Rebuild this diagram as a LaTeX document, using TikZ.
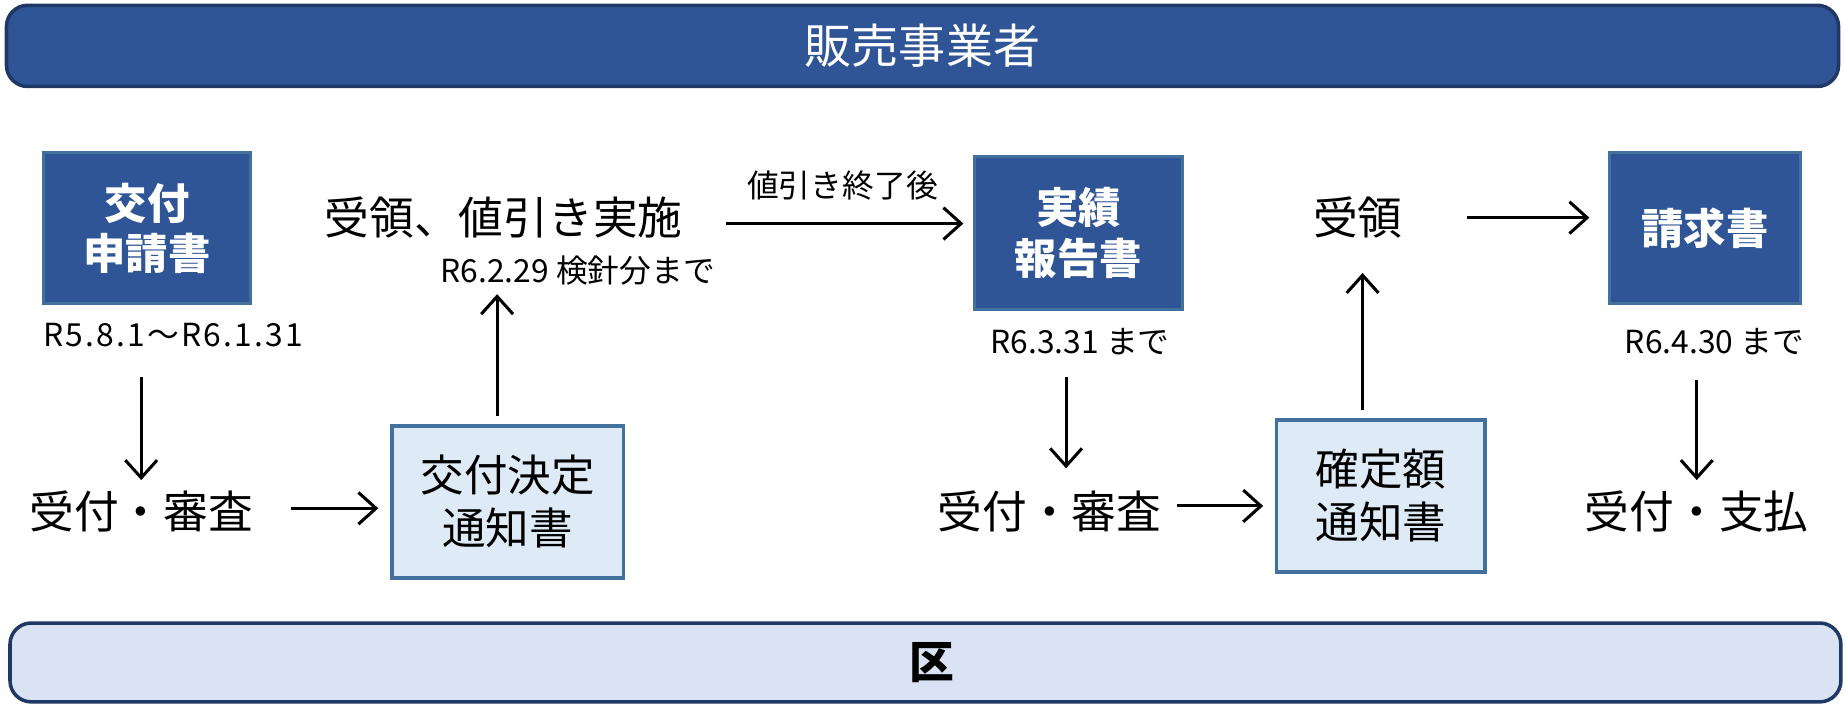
\documentclass[tikz,border=0pt]{standalone}
\usepackage{fontspec}
\setmainfont{Noto Sans CJK JP}
\usetikzlibrary{arrows.meta,calc}
\definecolor{dblue}{HTML}{2F5597}
\definecolor{dborder}{HTML}{203864}
\definecolor{mborder}{HTML}{41719C}
\definecolor{lfill}{HTML}{DEEBF7}
\definecolor{lbanner}{HTML}{DAE3F3}
\tikzset{
  topbanner/.style={draw=dborder,line width=3pt,fill=dblue,rounded corners=18pt,minimum width=1557pt,minimum height=69pt,inner sep=0pt,text=white,font=\fontsize{40}{44}\selectfont},
  botbanner/.style={draw=dborder,line width=3pt,fill=lbanner,rounded corners=18pt,minimum width=1556pt,minimum height=67pt,inner sep=0pt,font=\bfseries\fontsize{38}{42}\selectfont},
  darkbox/.style={draw=mborder,line width=2.5pt,fill=dblue,inner sep=0pt,text=white,align=center,font=\bfseries\fontsize{36}{43}\selectfont},
  lightbox/.style={draw=mborder,line width=3pt,fill=lfill,inner sep=0pt,align=center,font=\fontsize{37}{45}\selectfont},
  bigtxt/.style={inner sep=0pt,font=\fontsize{38}{44}\selectfont},
  smalltxt/.style={inner sep=0pt,font=\fontsize{27}{30}\selectfont},
  arr/.style={line width=2.6pt,-{Straight Barb[length=15pt,width=27pt,line width=2.6pt]}}
}
\begin{document}
\begin{tikzpicture}[x=1pt,y=-1pt]
\useasboundingbox (0,0) rectangle (1568,601);
\node[topbanner] (top) at (784,39) {販売事業者};
\node[botbanner] (bot) at (786.5,563) {\hspace*{11pt}区};
% dark boxes
\node[darkbox,minimum width=176pt,minimum height=128pt] (shinsei) at (125,194) {交付\\申請書};
\node[darkbox,minimum width=177pt,minimum height=130pt] (jisseki) at (916.5,198) {実績\\報告書};
\node[darkbox,minimum width=162pt,minimum height=128pt] (seikyu) at (1449,194) {請求書};
% light boxes
\node[lightbox,minimum width=197pt,minimum height=129pt] (kettei) at (431.5,426.5) {交付決定\\通知書};
\node[lightbox,minimum width=177pt,minimum height=129pt] (kakutei) at (1173.5,421.5) {確定額\\通知書};
% texts
\node[smalltxt] (r5) at (147,285) {\addfontfeature{LetterSpace=7}R5.8.1～R6.1.31};
\node[bigtxt] (uk1) at (120,435) {受付・審査};
\node[bigtxt] (jr1) at (428,185) {受領、値引き実施};
\node[smalltxt] (r62) at (491,230) {R6.2.29 検針分まで};
\node[smalltxt] (lbl) at (716,158) {値引き終了後};
\node[smalltxt] (r63) at (918,290) {R6.3.31 まで};
\node[bigtxt] (uk2) at (892,435) {受付・審査};
\node[bigtxt] (jr2) at (1154,185) {受領};
\node[smalltxt] (r64) at (1457,290) {R6.4.30 まで};
\node[bigtxt] (uk3) at (1442,435) {受付・支払};
% arrows
\draw[arr,shorten <=35pt,shorten >=27pt] (r5.center -| uk1.center) -- (uk1.center);
\draw[arr,shorten <=127pt,shorten >=10pt] ([yshift=3pt]uk1.center) -- ([yshift=3pt]uk1.center -| kettei.west);
\draw[arr,shorten <=7pt,shorten >=20pt] ([xshift=-9pt]kettei.north) -- ([xshift=-9pt]kettei.north |- r62.center);
\draw[arr,shorten <=189pt,shorten >=8pt] ([yshift=-5pt]jr1.center) -- ([yshift=-5pt]jr1.center -| jisseki.west);
\draw[arr,shorten <=30pt,shorten >=37pt] ([xshift=-12pt]r63.center) -- ([xshift=-12pt]r63.center |- uk2.center);
\draw[arr,shorten <=108pt,shorten >=10pt] ([yshift=5pt]uk2.center) -- ([yshift=5pt]uk2.center -| kakutei.west);
\draw[arr,shorten <=7pt,shorten >=47pt] ([xshift=4pt]jr2.center |- kakutei.north) -- ([xshift=4pt]jr2.center);
\draw[arr,shorten <=93pt,shorten >=16pt] (jr2.center) -- (jr2.center -| seikyu.west);
\draw[arr,shorten <=33pt,shorten >=27pt] (uk3.center |- r64.center) -- (uk3.center);
\end{tikzpicture}
\end{document}
